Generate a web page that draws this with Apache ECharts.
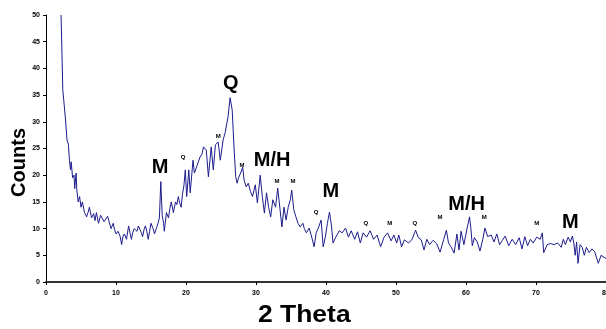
<!DOCTYPE html>
<html>
<head>
<meta charset="utf-8">
<script src="https://cdn.jsdelivr.net/npm/echarts@6/dist/echarts.min.js"></script>
<style>
  html, body { margin: 0; padding: 0; background: #fff; }
  #chart { width: 606px; height: 329px; }
</style>
</head>
<body>
<div id="chart"></div>
<script>
// XRD pattern
const theta = [
  2.15, 2.4, 2.77, 2.85, 3.0, 3.2, 3.35, 3.5, 3.6, 3.8, 4.0, 4.1, 4.3, 4.4, 4.6, 4.8, 5.0, 5.2, 5.5, 5.8,
  6.0, 6.2, 6.5, 6.8, 7.0, 7.2, 7.5, 7.8, 8.0, 8.3, 8.5, 8.8, 9.0, 9.3, 9.6, 9.8, 10.0, 10.3, 10.6, 10.8,
  11.0, 11.2, 11.5, 11.8, 12.0, 12.2, 12.4, 12.6, 13.0, 13.2, 13.4, 13.6, 13.8, 14.0, 14.2, 14.4, 14.6, 14.8, 15.0, 15.3,
  15.5, 15.8, 16.0, 16.2, 16.4, 16.6, 16.8, 16.9, 17.2, 17.5, 17.7, 17.9, 18.2, 18.5, 18.7, 18.9, 19.1, 19.3, 19.5, 19.7,
  19.9, 20.1, 20.4, 20.6, 21.0, 21.2, 21.5, 22.0, 22.3, 22.5, 22.9, 23.2, 23.6, 23.9, 24.2, 24.6, 24.9, 25.3, 25.6, 26.0,
  26.3, 26.6, 26.9, 27.1, 27.3, 27.5, 27.8, 28.1, 28.3, 28.6, 28.9, 29.2, 29.5, 29.9, 30.2, 30.6, 30.9, 31.2, 31.5, 31.8,
  32.1, 32.4, 32.8, 33.1, 33.4, 33.7, 34.0, 34.3, 34.6, 34.9, 35.1, 35.4, 35.7, 36.0, 36.3, 36.7, 36.9, 37.2, 37.6, 38.0,
  38.3, 38.6, 38.9, 39.3, 39.6, 39.9, 40.2, 40.5, 40.8, 41.0, 41.4, 41.9, 42.3, 42.8, 43.2, 43.6, 44.1, 44.5, 44.9, 45.3,
  45.8, 46.3, 46.8, 47.3, 47.8, 48.3, 48.8, 49.3, 49.7, 50.1, 50.4, 50.8, 51.2, 51.8, 52.3, 52.8, 53.2, 53.6, 54.0, 54.4,
  54.8, 55.3, 55.8, 56.3, 56.8, 57.2, 57.5, 57.9, 58.3, 58.7, 59.0, 59.3, 59.7, 60.1, 60.5, 60.7, 60.9, 61.2, 61.6, 62.0,
  62.4, 62.7, 63.1, 63.6, 64.0, 64.4, 64.8, 65.2, 65.6, 66.1, 66.6, 67.1, 67.6, 68.0, 68.4, 68.8, 69.2, 69.6, 70.1, 70.6,
  70.9, 71.1, 71.6, 72.1, 72.6, 73.1, 73.6, 73.9, 74.2, 74.6, 74.9, 75.2, 75.4, 75.6, 75.8, 76.0, 76.3, 76.6, 76.9, 77.2,
  77.6, 78.0, 78.4, 78.6, 78.9, 79.3, 80.0
];
const counts = [
  50, 36, 30.7, 30.5, 26.6, 25.8, 22.8, 21, 22.5, 19.5, 20, 17.5, 20.4, 17.2, 15, 16, 14, 15, 13, 12.2,
  13, 14, 12, 12.8, 11.5, 13, 11, 12.5, 12, 11.3, 11, 12.3, 12.5, 10, 11, 9.8, 9, 9.5, 8.5, 7,
  8.6, 9, 8, 10.5, 9.2, 8, 9.3, 10, 9.5, 10.5, 10.2, 9.3, 8.5, 9.8, 10.5, 9.5, 8, 9.5, 11, 10,
  9, 10.2, 11, 12, 18.8, 12.5, 11, 9.5, 13, 12, 13.8, 15, 13, 15, 14.5, 16, 14.8, 14, 16.5, 18,
  21, 16, 21, 16.7, 22.8, 20.4, 21.5, 23.4, 24, 25.3, 24.7, 19.7, 25.3, 21, 25.7, 26.2, 22.8, 26.6, 28, 30.9,
  34.5, 32.2, 24.2, 19.7, 18.5, 19.5, 20.4, 21.5, 19.1, 17.8, 18.5, 17, 16, 18.2, 14.8, 20, 16, 12.9, 16.7, 14,
  12.2, 15.4, 14, 17.6, 14, 10.3, 14, 11.6, 14, 15.4, 17.2, 13.5, 12.2, 11, 10.3, 11, 10, 9.2, 10.1, 8.2,
  6.6, 9.2, 10.1, 11.6, 6.6, 8.4, 11, 13.1, 10.3, 7.3, 8.4, 9.6, 9.2, 10.1, 8.4, 9.6, 8, 9.4, 7.3, 9.2,
  8.4, 9.6, 8, 8.8, 6.6, 8.4, 9.2, 7.7, 8.8, 7.3, 8.8, 6.6, 7.9, 7.3, 8, 9.7, 8.3, 7.9, 6, 8,
  7, 7.8, 7.2, 5.6, 7.9, 9.7, 7.3, 6.5, 5.4, 9, 6, 9.5, 7, 9.7, 12.2, 10, 6.8, 8.3, 7.5, 5.8,
  8, 10.1, 8.5, 8.8, 7.5, 9, 7, 7.8, 8.6, 6.8, 8, 7, 8.3, 6.2, 8.5, 6.8, 8, 7.3, 8.4, 8,
  9.2, 5.5, 7, 7.2, 7, 7.3, 6.5, 8, 7, 8.4, 7.5, 8.6, 7.3, 5, 7.5, 3.5, 7, 6.5, 5, 6.5,
  5.5, 6.2, 5.6, 5.8, 3.5, 5, 4.4
];

// phase labels (M, Q, H) placed in data units
const annoText = ['M', 'Q', 'M', 'Q', 'M', 'M/H', 'M', 'M', 'Q', 'M', 'Q', 'M', 'Q', 'M', 'M/H', 'M', 'M', 'M'];
const annoX    = [16.3, 19.6, 24.6, 26.4, 28.0, 32.3, 33.0, 35.3, 38.6, 40.7, 45.7, 49.1, 52.7, 56.3, 60.1, 62.6, 70.1, 74.9];
const annoY    = [21.5, 23.4, 27.2, 37.1, 21.9, 22.8, 18.9, 18.9, 13.1, 17.0, 11.0, 11.0, 11.0, 12.2, 14.6, 12.2, 11.0, 11.2];
const annoBig  = [true, false, false, true, false, true, false, false, false, true, false, false, false, false, true, false, false, true];

const chart = echarts.init(document.getElementById('chart'));

const tickLabel = {
  fontSize: 7,
  fontWeight: 'bold',
  fontFamily: 'Liberation Sans',
  color: '#000'
};

const option = {
  animation: false,
  grid: { left: 46, right: 0, top: 15, bottom: 47, outerBoundsMode: 'none' },
  xAxis: {
    type: 'value',
    min: 0,
    max: 80,
    interval: 10,
    axisLine: { lineStyle: { color: '#333', width: 2 } },
    axisTick: { length: 3, lineStyle: { color: '#000' } },
    axisLabel: Object.assign({ margin: 8 }, tickLabel),
    splitLine: { show: false }
  },
  yAxis: {
    type: 'value',
    min: 0,
    max: 50,
    interval: 5,
    axisLine: { show: true, lineStyle: { color: '#000', width: 1 } },
    axisTick: { show: true, length: 3, lineStyle: { color: '#000' } },
    axisLabel: Object.assign({ margin: 6 }, tickLabel),
    splitLine: { show: false }
  },
  graphic: [
    {
      type: 'text',
      left: 9,
      top: 128,
      rotation: Math.PI / 2,
      style: {
        text: 'Counts',
        font: 'bold 20px "Liberation Sans"',
        fill: '#000'
      }
    },
    {
      type: 'text',
      left: 258,
      top: 304,
      scaleX: 1.15,
      style: {
        text: '2 Theta',
        font: 'bold 23px "Liberation Sans"',
        fill: '#000'
      }
    }
  ],
  series: [
    {
      type: 'line',
      data: theta.map((t, i) => [t, counts[i]]),
      showSymbol: false,
      clip: true,
      lineStyle: { color: '#1c1c8c', width: 1 }
    },
    {
      type: 'scatter',
      symbolSize: 0,
      silent: true,
      z: 5,
      itemStyle: { opacity: 1 },
      data: annoText.map((s, i) => ({
        value: [annoX[i], annoY[i]],
        name: s,
        label: {
          fontSize: annoBig[i] ? 20 : 6,
          fontWeight: 'bold',
          color: '#000'
        }
      })),
      label: {
        show: true,
        position: 'inside',
        formatter: '{b}',
        color: '#000',
        fontFamily: 'Liberation Sans'
      }
    }
  ]
};

chart.setOption(option);
</script>
</body>
</html>
